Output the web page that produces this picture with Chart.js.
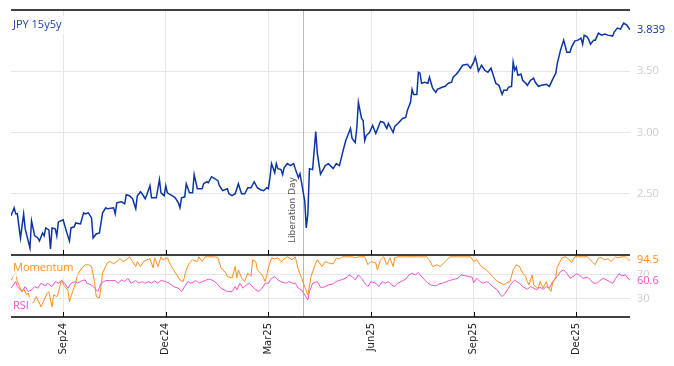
<!DOCTYPE html>
<html>
<head>
<meta charset="utf-8">
<script src="https://cdn.jsdelivr.net/npm/chart.js@4/dist/chart.umd.min.js"></script>
<style>
  html, body { margin: 0; padding: 0; background: #fff; }
</style>
</head>
<body>
<canvas id="c" width="674" height="366"></canvas>
<script>
// x = trading-day number counted from the first observation
const startDate = '2024-07-17';
const lastDay = 392;

const jpyDays = [0,2,3,4,6,8,9,12,13,15, 17,18,20,21,22,24,25,26,28,29, 30,33,35,37,38,40,41,44,46,47,
  49,51,52,54,56,58,60,61,65,66, 67,70,72,73,75,77,79,80,82,83, 85,86,88,89,91,92,94,95,97,98,
  99,102,104,106,107,108,110,111,113,115, 116,118,121,122,124,125,127,129,131,132, 134,137,138,140,142,144,146,148,150,152,
  154,156,158,160,162,163,164,165,167,168, 169,171,172,173,175,177,179,180,182,183, 184,186,187,188,189,191,193,194,196,198,
  199,201,204,206,208,210,212,213,215,216, 218,219,220,222,223,224,225,227,229,231, 234,236,238,239,242,243,245,248,250,251,
  253,254,255,257,258,259,260,262,264,265, 267,269,270,273,275,277,279,280,282,284, 286,289,291,293,294,295,296,298,300,302,
  304,305,307,309,311,312,314,315,317,318, 319,320,321,323,324,326,327,329,331,332, 334,336,339,341,343,345,346,348,350,352,
  354,355,357,359,361,362,363,365,366,367, 369,370,372,374,376,378,381,382,384,386, 388,390,392];
const jpy = [2.32,2.385,2.336,2.336,2.139,2.336,2.213,2.057,2.279,2.156, 2.139,2.115,2.18,2.156,2.221,2.205,2.049,2.221,2.213,2.156,
  2.27,2.287,2.197,2.115,2.221,2.23,2.262,2.254,2.344,2.336, 2.344,2.303,2.139,2.172,2.18,2.344,2.385,2.377,2.385,2.336,
  2.426,2.434,2.418,2.492,2.484,2.459,2.377,2.484,2.516,2.5, 2.459,2.492,2.566,2.467,2.467,2.467,2.615,2.508,2.484,2.566,
  2.508,2.484,2.467,2.426,2.385,2.467,2.475,2.582,2.508,2.508, 2.656,2.541,2.541,2.582,2.598,2.59,2.639,2.623,2.607,2.566,
  2.525,2.541,2.5,2.484,2.5,2.582,2.5,2.5,2.549,2.549, 2.598,2.549,2.533,2.525,2.549,2.541,2.631,2.746,2.672,2.746,
  2.705,2.697,2.656,2.713,2.746,2.73,2.746,2.705,2.631,2.664, 2.59,2.443,2.221,2.336,2.705,2.697,3.008,2.828,2.66,2.705,
  2.73,2.746,2.705,2.746,2.73,2.836,2.934,2.967,3.033,2.951, 2.918,3.041,3.246,3.115,3.098,2.934,2.975,3.0,3.057,2.992,
  3.09,3.082,3.033,3.074,3.0,3.049,3.074,3.115,3.123,3.18, 3.246,3.352,3.311,3.311,3.492,3.484,3.402,3.41,3.402,3.451,
  3.361,3.328,3.352,3.369,3.377,3.402,3.41,3.451,3.475,3.508, 3.549,3.557,3.525,3.574,3.615,3.566,3.5,3.549,3.508,3.492,
  3.525,3.484,3.402,3.385,3.311,3.344,3.344,3.369,3.377,3.574, 3.508,3.533,3.467,3.475,3.426,3.402,3.385,3.426,3.443,3.41,
  3.377,3.385,3.393,3.377,3.434,3.484,3.566,3.672,3.754,3.656, 3.656,3.697,3.746,3.754,3.77,3.721,3.795,3.779,3.754,3.721,
  3.754,3.754,3.811,3.795,3.803,3.795,3.787,3.82,3.852,3.844, 3.893,3.877,3.839];

const momDays = [0,3,4,7,8,10,11,12,14,16, 18,19,21,23,24,26,27,29,30,32, 34,36,37,39,41,42,45,47,49,51,
  53,54,56,57,58,61,63,65,67,69, 71,73,75,77,79,80,82,84,86,88, 90,91,93,95,96,99,101,103,105,107,
  109,111,113,115,118,119,121,123,126,129, 131,133,136,137,140,142,143,144,146,148, 150,152,153,155,156,159,161,162,163,165,
  167,169,171,174,175,178,180,182,184,186, 188,190,193,194,197,199,201,204,206,208, 210,213,216,218,220,222,224,226,228,231,
  232,234,236,238,240,242,243,245,247,251, 254,257,260,263,265,267,270,272,274,276, 278,280,282,284,288,291,293,295,297,299,
  301,303,305,308,310,312,314,316,318,320, 322,324,326,327,328,330,331,333,334,335, 337,339,340,342,343,345,346,349,351,353,
  355,357,359,362,365,368,370,372,374,376, 378,380,383,384,387,389,391,392];
const momentum = [60.5,73.8,58.8,42.2,46.7,36.7,40,28.3,23.3,33.8, 23.3,16.7,28.3,40,41.7,16.7,36.7,33.8,40.5,61.7,
  50.5,45,25.5,42.2,56.7,70,81.7,86.7,86.7,83.8, 56.7,33.8,31.7,50.5,73.3,90,92.2,88.3,92.2,96.7,
  92.2,95,100,92.2,83.8,92.2,83.8,92.2,95,96.7, 81.7,98.3,83.8,100,95,98.3,86.7,78.3,70,61.7,
  58.8,78.3,90,95,92.2,100,92.2,100,100,100, 98.3,81.7,73.3,67.2,65,83.8,65,78.3,65,58.8,
  73.3,67.2,95,92.2,78.3,70,58.8,70,81.7,98.3, 96.7,98.3,92.2,98.3,100,95,100,78.3,65,50.5,
  36.7,67.2,90,95,83.8,92.2,90,88,97.5,96.7, 100,100,100,98.3,100,100,100,86.7,92.2,90,
  78.3,95,100,86.7,98.3,83.8,98.3,100,100,100, 100,100,100,100,95,83.8,86.7,83.8,90,95,
  100,100,100,100,100,100,92.2,95,86.7,81.7, 78.3,73.3,67.2,58.8,56.7,53.3,56.7,58.8,78.3,86.7,
  83.8,73.3,67.2,58.8,53.3,70,53.3,48.3,48.3,58.8, 48.3,58.8,50.5,42.2,56.7,67.2,83.8,98.3,100,96.7,
  90,100,100,100,100,92.2,86.7,98.3,98.3,95, 96.7,92.2,100,98.3,100,100,95,94.5];

const rsiDays = [0,3,4,7,9,11,13,15,17,19, 22,23,26,28,30,32,34,36,38,41, 42,45,47,48,51,53,55,57,60,63,
  66,68,70,72,74,76,79,81,83,85, 87,89,91,93,95,98,100,103,106,108, 110,112,114,117,119,121,123,125,127,129,
  131,133,137,140,142,143,145,147,149,151, 152,155,157,159,161,163,165,167,169,171, 174,176,178,180,182,184,186,188,189,191,
  194,196,198,201,204,206,209,212,214,216, 218,220,222,224,226,228,231,233,235,237, 239,241,243,245,247,250,252,254,256,258,
  260,262,264,266,269,271,273,275,277,279, 281,283,285,288,290,292,293,295,297,299, 301,303,305,308,310,311,313,315,317,319,
  320,322,324,327,329,331,333,335,337,339, 341,343,346,348,350,352,354,356,358,360, 362,365,367,369,371,373,375,377,379,381,
  383,385,387,389,392];
const rsi = [47.8,58.8,50.5,42.2,50.5,42.2,45,50.5,47.8,56.1, 51.6,56.1,50.5,58.8,56.1,60.5,56.1,47.8,56.1,58.8,
  56.1,60.5,61.7,56.1,53.3,47.8,42.2,56.1,60.5,60.5, 60.5,56.1,61.7,58.8,64.4,56.1,60.5,56.1,58.8,56.1,
  58.8,56.1,60,56.1,60.5,58.8,56.1,50.5,47.8,42.2, 50.5,58.8,56.1,60.5,56.1,58.8,60.5,62.8,61.7,58.8,
  53.3,47.8,42.2,42.2,50.5,45,56.1,47.8,53.3,56.1, 53.3,45,42.2,47.8,56.1,56.1,64.4,67.2,61.7,58.8,
  56.1,58.8,56.1,56.1,47.8,45,36.7,28.3,42.2,56.1, 58.8,49.3,49.3,53.3,54.9,58.8,61.7,64.4,70,67.2,
  61.7,70,64.4,56.1,50.5,58.8,56.1,50.5,58.8,56.1, 58.8,53.3,50.5,56.1,58.8,62.8,70,72.8,70,73.8,
  67.2,61.7,56.1,53.3,51.6,54.9,56.1,57.8,60,61.7, 62.8,64.4,70,68.3,67.2,66.1,57.2,64.4,58.8,56.1,
  58.8,56.1,50.5,45,36.7,33.8,39.5,47.8,56.1,61.7, 58.8,56.1,50.5,46.1,50.5,47.8,45,49.3,46.1,50.5,
  47.8,58.8,67.2,75.5,78.3,72.8,64.4,67.2,71.7,70, 64.4,66.1,61.7,56.1,56.1,60.5,64.4,61.7,58.8,56.1,
  64.4,71.7,68.3,70,60.6];

const tickDates = ['2024-09-02', '2024-12-02', '2025-03-03', '2025-06-02', '2025-09-01', '2025-12-01'];
const tickLabels = ['Sep24', 'Dec24', 'Mar25', 'Jun25', 'Sep25', 'Dec25'];
const mainTicks = [2.5, 3.0, 3.5];
const subTicks = [30, 70];
const eventDate = '2025-04-02';
const eventLabel = 'Liberation Day';

const BLUE = '#0b35a2', ORANGE = '#ff8c1a', PINK = '#f54fd4';

function weekdaysSince(d) {
  const a = new Date(startDate + 'T00:00:00Z'), b = new Date(d + 'T00:00:00Z');
  let n = 0;
  while (a < b) {
    a.setUTCDate(a.getUTCDate() + 1);
    const w = a.getUTCDay();
    if (w !== 0 && w !== 6) n++;
  }
  return n;
}

const pts = (xs, ys) => xs.map((x, i) => ({ x, y: ys[i] }));
const last = arr => arr[arr.length - 1];

const overlay = {
  id: 'overlay',
  beforeDatasetsDraw(chart) {
    const { ctx, chartArea: a, scales } = chart;
    const x = Math.round(scales.x.getPixelForValue(weekdaysSince(eventDate))) + 0.5;
    ctx.save();
    ctx.strokeStyle = '#b8b8b8';
    ctx.lineWidth = 1;
    ctx.beginPath(); ctx.moveTo(x, a.top); ctx.lineTo(x, a.bottom); ctx.stroke();
    ctx.translate(x - 11, scales.y.bottom - 12);
    ctx.rotate(-Math.PI / 2);
    ctx.fillStyle = '#555';
    ctx.font = '9px "DejaVu Sans"';
    ctx.textAlign = 'left';
    ctx.textBaseline = 'middle';
    ctx.fillText(eventLabel, 0, 0);
    ctx.restore();
  },
  afterDatasetsDraw(chart) {
    const { ctx, scales } = chart;
    const tag = (text, color, x, y) => {
      ctx.font = '11px "Open Sans"';
      const w = ctx.measureText(text).width;
      ctx.fillStyle = 'rgba(255,255,255,0.75)';
      ctx.fillRect(x - 2, y - 9, w + 6, 18);
      ctx.fillStyle = color;
      ctx.textAlign = 'left';
      ctx.textBaseline = 'middle';
      ctx.fillText(text, x, y);
    };
    ctx.save();
    tag('JPY 15y5y', '#1c42ad', 13, 25);
    tag('Momentum', ORANGE, 13, scales.y2.top + 13);
    tag('RSI', PINK, 13, scales.y2.bottom - 11);
    ctx.restore();
  },
  afterDraw(chart) {
    const { ctx, chartArea: a, scales } = chart;
    ctx.save();
    ctx.strokeStyle = '#000';
    ctx.lineWidth = 1.3;
    [a.top, scales.y.bottom, a.bottom].forEach(y => {
      ctx.beginPath(); ctx.moveTo(a.left, y); ctx.lineTo(a.right, y); ctx.stroke();
    });
    ctx.lineWidth = 1;
    scales.x.ticks.forEach(t => {
      const x = Math.round(scales.x.getPixelForValue(t.value)) + 0.5;
      [scales.y.bottom, a.bottom].forEach(y => {
        ctx.beginPath(); ctx.moveTo(x, y - 5); ctx.lineTo(x, y); ctx.stroke();
      });
    });
    const val = (text, color, scale, v) => {
      const y = scale.getPixelForValue(v);
      ctx.font = '11px "Open Sans"';
      const w = ctx.measureText(text).width;
      ctx.fillStyle = '#fff';
      ctx.fillRect(a.right + 5, y - 5, w + 4, 11);
      ctx.fillStyle = color;
      ctx.textAlign = 'left';
      ctx.textBaseline = 'middle';
      ctx.fillText(text, a.right + 7, y);
    };
    val(last(jpy).toFixed(3), BLUE, scales.y, last(jpy));
    val(last(rsi).toFixed(1), PINK, scales.y2, last(rsi));
    val(last(momentum).toFixed(1), ORANGE, scales.y2, last(momentum));
    ctx.restore();
  }
};

const tickFont = { family: 'Open Sans', size: 11 };
const noPad = s => { s.paddingTop = 0; s.paddingBottom = 0; };

new Chart(document.getElementById('c'), {
  type: 'line',
  data: {
    datasets: [
      { data: pts(jpyDays, jpy), yAxisID: 'y', borderColor: BLUE, borderWidth: 1.5 },
      { data: pts(momDays, momentum), yAxisID: 'y2', borderColor: ORANGE, borderWidth: 1 },
      { data: pts(rsiDays, rsi), yAxisID: 'y2', borderColor: PINK, borderWidth: 1 }
    ]
  },
  options: {
    responsive: false,
    animation: false,
    devicePixelRatio: 1,
    elements: { point: { radius: 0 }, line: { tension: 0 } },
    layout: { padding: { left: 11, top: 10, right: 0, bottom: 0 } },
    plugins: { legend: { display: false }, tooltip: { enabled: false } },
    scales: {
      x: {
        type: 'linear', min: 0, max: lastDay,
        afterBuildTicks: s => { s.ticks = tickDates.map(d => ({ value: weekdaysSince(d) })); },
        afterFit: s => { s.height = 49; s.paddingLeft = 0; s.paddingRight = 0; },
        ticks: {
          callback: (v, i) => tickLabels[i],
          autoSkip: false, minRotation: 90, maxRotation: 90, padding: 6,
          color: '#222', font: { family: 'DejaVu Sans', size: 10 }
        },
        grid: { color: '#e6e6e6', drawTicks: false },
        border: { display: false }
      },
      y: {
        position: 'right', stack: 'panels', stackWeight: 245, min: 2, max: 4,
        afterBuildTicks: s => { s.ticks = mainTicks.map(v => ({ value: v })); },
        afterFit: s => { s.width = 44; noPad(s); },
        ticks: { callback: v => v.toFixed(2), color: '#cdcdcd', padding: 7, font: tickFont },
        grid: { color: '#e6e6e6', drawTicks: false },
        border: { display: false }
      },
      y2: {
        position: 'right', stack: 'panels', stackWeight: 62, min: 0, max: 103,
        afterBuildTicks: s => { s.ticks = subTicks.map(v => ({ value: v })); },
        afterFit: s => { s.width = 44; noPad(s); },
        ticks: { color: '#cdcdcd', padding: 7, font: tickFont },
        grid: { color: '#e6e6e6', drawTicks: false },
        border: { display: false }
      }
    }
  },
  plugins: [overlay]
});
</script>
</body>
</html>
